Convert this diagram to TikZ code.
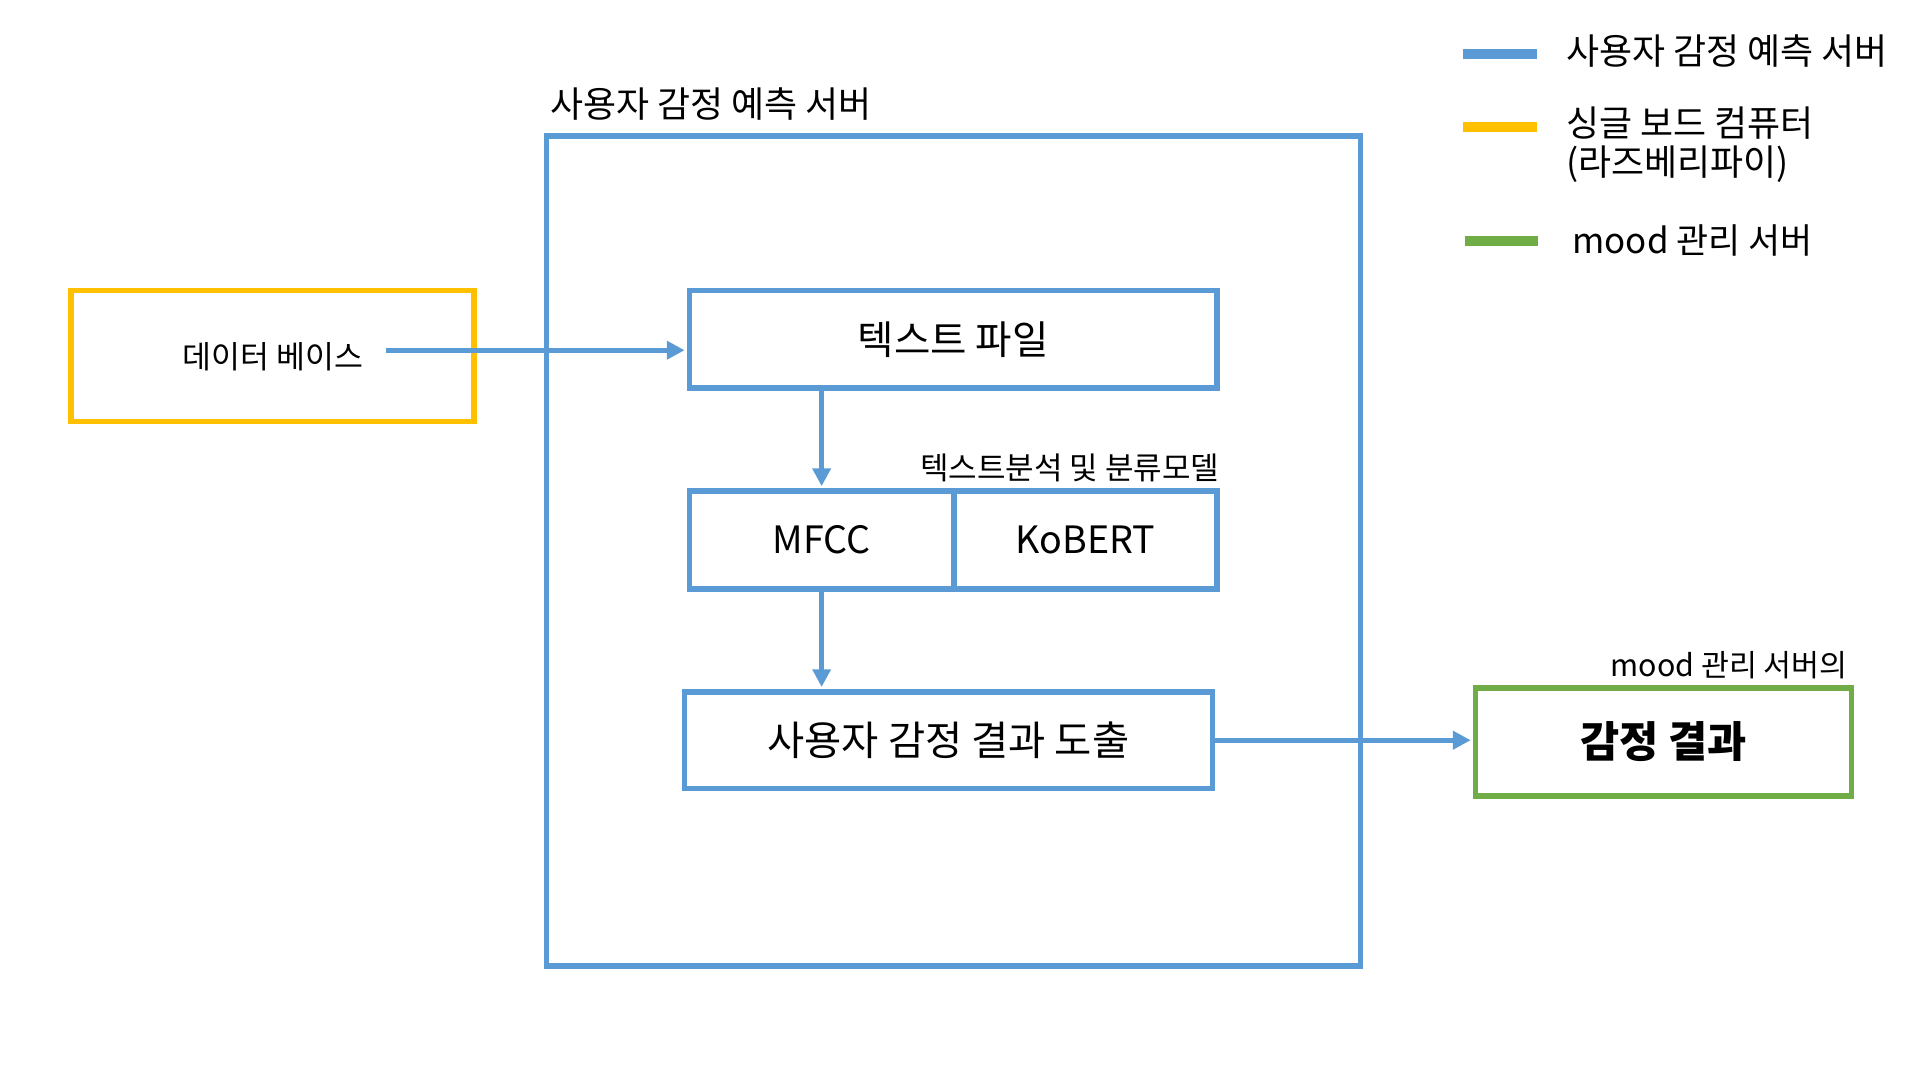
\documentclass[tikz,border=0pt]{standalone}
\usepackage{fontspec}
\setmainfont{Noto Sans CJK KR}
\usepackage{tikz}
\usetikzlibrary{arrows.meta}
\usetikzlibrary{calc}
\definecolor{bleu}{HTML}{5B9BD5}
\definecolor{jaune}{HTML}{FFC000}
\definecolor{vert}{HTML}{70AD47}

\begin{document}
\begin{tikzpicture}[x=0.02cm, y=-0.02cm,
    boite/.style={draw, line width=2.5pt, inner sep=0pt, align=center, text=black},
    fleche/.style={bleu, line width=2.5pt, -{Triangle[length=0.29cm, width=0.29cm]}},
    legende/.style={line width=0.16cm}]
    \useasboundingbox (0,0) rectangle (1568,882);

    % Serveur de prédiction
    \node[boite, draw=bleu, minimum width=13.3cm, minimum height=13.56cm] (serveur) at (778.5,450) {};
    \node[anchor=west, font=\fontsize{16.7}{20}\selectfont] (titre) at (443,85) {사용자 감정 예측 서버};

    % Base de données
    \node[boite, draw=jaune, minimum width=6.58cm, minimum height=2.14cm] (db) at (222.5,290.5) {};
    \node[font=\fontsize{14.6}{17}\selectfont] (dbtexte) at (223,291) {데이터 베이스};
    \coordinate (dbfin) at (315,286);

    % Blocs internes
    \node[boite, draw=bleu, minimum width=8.62cm, minimum height=1.6cm,
        font=\fontsize{18.4}{22}\selectfont] (txt) at (778.5,277) {텍스트 파일};
    \node[boite, draw=bleu, minimum width=4.32cm, minimum height=1.6cm,
        font=\fontsize{17.5}{21}\selectfont] (mfcc) at (671,441) {MFCC};
    \node[boite, draw=bleu, minimum width=4.3cm, minimum height=1.6cm,
        font=\fontsize{17.5}{21}\selectfont] (kobert) at (886.5,441) {KoBERT};
    \node[anchor=east, font=\fontsize{14.4}{17}\selectfont] (modele) at (1002,382) {텍스트분석 및 분류모델};
    \node[boite, draw=bleu, minimum width=8.62cm, minimum height=1.58cm,
        font=\fontsize{18.8}{22}\selectfont] (resultat) at (774.5,604.5) {사용자 감정 결과 도출};

    % Serveur mood
    \node[boite, draw=vert, minimum width=6.14cm, minimum height=1.76cm,
        font=\fontsize{19.8}{24}\selectfont\bfseries] (emo) at (1358.5,606) {감정 결과};
    \node[anchor=east, font=\fontsize{14.1}{17}\selectfont] (mood) at (1515,543) {mood 관리 서버의};

    % Flèches
    \draw[fleche, shorten >=1pt] (dbfin) -- (dbfin -| txt.west);
    \draw[fleche, shorten >=1pt] (mfcc.north |- txt.south) -- (mfcc.north);
    \draw[fleche, shorten >=1pt] (mfcc.south) -- (resultat.north -| mfcc.south);
    \draw[fleche, shorten >=1pt] (resultat.east) -- (resultat.east -| emo.west);

    % Légende
    \draw[legende, bleu] (1195,44) -- (1255,44);
    \draw[legende, jaune] (1195,104) -- (1255,104);
    \draw[legende, vert] (1196,197) -- (1256,197);
    \node[anchor=west, font=\fontsize{16.7}{20}\selectfont] (lbleu) at (1273,42) {사용자 감정 예측 서버};
    \node[anchor=west, align=left, font=\fontsize{16.7}{18}\selectfont] (ljaune) at (1273,118) {싱글 보드 컴퓨터\\(라즈베리파이)};
    \node[anchor=west, font=\fontsize{16.2}{20}\selectfont] (lvert) at (1278,196) {mood 관리 서버};
\end{tikzpicture}
\end{document}
